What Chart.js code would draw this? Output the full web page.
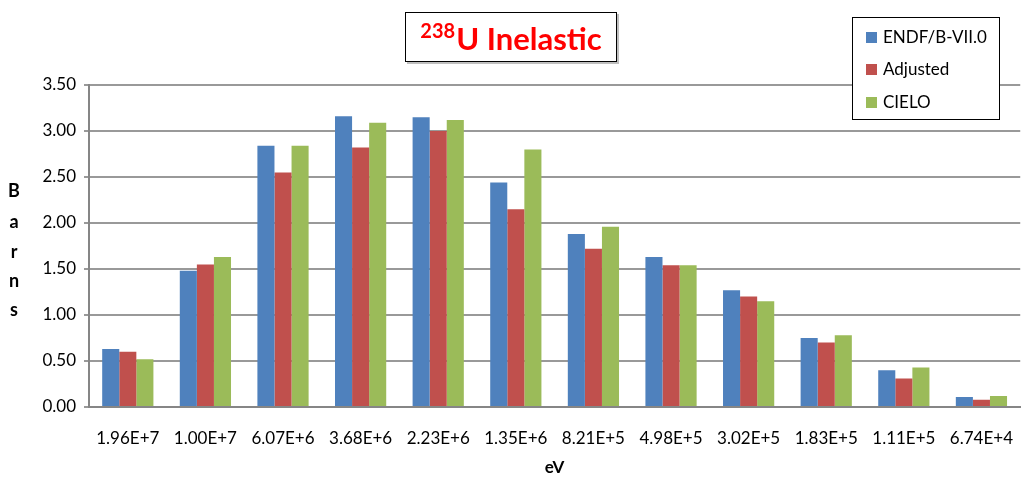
<!DOCTYPE html>
<html>
<head>
<meta charset="utf-8">
<script src="https://cdn.jsdelivr.net/npm/chart.js@4"></script>
<style>
html,body{margin:0;padding:0;background:#fff;}
#wrap{width:1026px;height:478px;}
</style>
</head>
<body>
<div id="wrap"><canvas id="c" width="1026" height="478"></canvas></div>
<script>
const categories = ['1.96E+7','1.00E+7','6.07E+6','3.68E+6','2.23E+6','1.35E+6','8.21E+5','4.98E+5','3.02E+5','1.83E+5','1.11E+5','6.74E+4'];
const endf     = [0.63, 1.48, 2.84, 3.16, 3.15, 2.44, 1.88, 1.63, 1.27, 0.75, 0.40, 0.11];
const adjusted = [0.60, 1.55, 2.55, 2.82, 3.00, 2.15, 1.72, 1.54, 1.20, 0.70, 0.31, 0.08];
const cielo    = [0.52, 1.63, 2.84, 3.09, 3.12, 2.80, 1.96, 1.54, 1.15, 0.78, 0.43, 0.12];
const seriesNames = ['ENDF/B-VII.0', 'Adjusted', 'CIELO'];
const colors = ['#4F81BD', '#C0504D', '#9BBB59'];
const titleSup = '238';
const titleMain = 'U Inelastic';
const yTitle = 'Barns';
const xTitle = 'eV';

const FONT = 'Lato, "Open Sans", sans-serif';

const overlay = {
  id: 'overlay',
  afterDraw(chart) {
    const ctx = chart.ctx;
    ctx.save();
    // Title box
    const bx = 405, by = 12, bw = 212, bh = 50;
    ctx.fillStyle = 'rgba(0,0,0,0.25)';
    ctx.fillRect(bx + 2, by + 2, bw, bh);
    ctx.fillStyle = '#fff';
    ctx.fillRect(bx, by, bw, bh);
    ctx.strokeStyle = '#000';
    ctx.lineWidth = 1;
    ctx.strokeRect(bx + 0.5, by + 0.5, bw - 1, bh - 1);
    ctx.fillStyle = '#FF0000';
    ctx.textBaseline = 'alphabetic';
    ctx.textAlign = 'left';
    ctx.font = 'bold 20px ' + FONT;
    const supW = ctx.measureText(titleSup).width;
    ctx.font = 'bold 31px ' + FONT;
    const mainW = ctx.measureText(titleMain).width;
    const total = supW + mainW + 1;
    let tx = bx + (bw - total) / 2;
    ctx.font = 'bold 20px ' + FONT;
    ctx.fillText(titleSup, tx, 38);
    ctx.font = 'bold 31px ' + FONT;
    ctx.fillText(titleMain, tx + supW + 1, 50);

    // Legend box
    const lx = 852, ly = 17, lw = 148, lh = 103;
    ctx.fillStyle = '#fff';
    ctx.fillRect(lx, ly, lw, lh);
    ctx.strokeStyle = '#000';
    ctx.strokeRect(lx + 0.5, ly + 0.5, lw - 1, lh - 1);
    ctx.font = '17px ' + FONT;
    ctx.textBaseline = 'middle';
    const rows = [37, 69, 102];
    seriesNames.forEach((n, i) => {
      ctx.fillStyle = colors[i];
      ctx.fillRect(866, rows[i] - 5, 11, 11);
      ctx.fillStyle = '#000';
      ctx.fillText(n, 883, rows[i] + 1);
    });

    // Y title stacked letters
    ctx.font = 'bold 18px ' + FONT;
    ctx.textAlign = 'center';
    ctx.fillStyle = '#000';
    const ys = [191, 222, 252, 281, 310];
    yTitle.split('').forEach((ch, i) => ctx.fillText(ch, 14, ys[i]));
    ctx.restore();
  }
};

new Chart(document.getElementById('c'), {
  type: 'bar',
  data: {
    labels: categories,
    datasets: [
      { label: seriesNames[0], data: endf, backgroundColor: colors[0] },
      { label: seriesNames[1], data: adjusted, backgroundColor: colors[1] },
      { label: seriesNames[2], data: cielo, backgroundColor: colors[2] }
    ]
  },
  options: {
    responsive: false,
    animation: false,
    devicePixelRatio: 1,
    layout: { padding: { top: 85, left: 0, right: 0, bottom: 0 } },
    datasets: { bar: { categoryPercentage: 0.66, barPercentage: 1.0, borderWidth: 0 } },
    plugins: {
      legend: { display: false },
      title: { display: false },
      tooltip: { enabled: false }
    },
    scales: {
      x: {
        grid: { display: false },
        border: { display: true, color: '#868686', width: 2 },
        ticks: { color: '#000', font: { family: FONT, size: 17 }, padding: 13, maxRotation: 0, autoSkip: false },
        title: { display: true, text: xTitle, color: '#000', font: { family: FONT, size: 17, weight: 'bold' }, padding: { top: 4, bottom: 0 } },
        afterFit(s) { s.height = 71; }
      },
      y: {
        min: 0, max: 3.5,
        ticks: { stepSize: 0.5, color: '#000', font: { family: FONT, size: 17 }, padding: 8,
          callback: v => Number(v).toFixed(2) },
        grid: { color: '#999', lineWidth: 2, tickLength: 5, drawTicks: true },
        border: { display: true, color: '#868686', width: 2 },
        afterFit(s) { s.width = 89; }
      }
    }
  },
  plugins: [overlay]
});
</script>
</body>
</html>
